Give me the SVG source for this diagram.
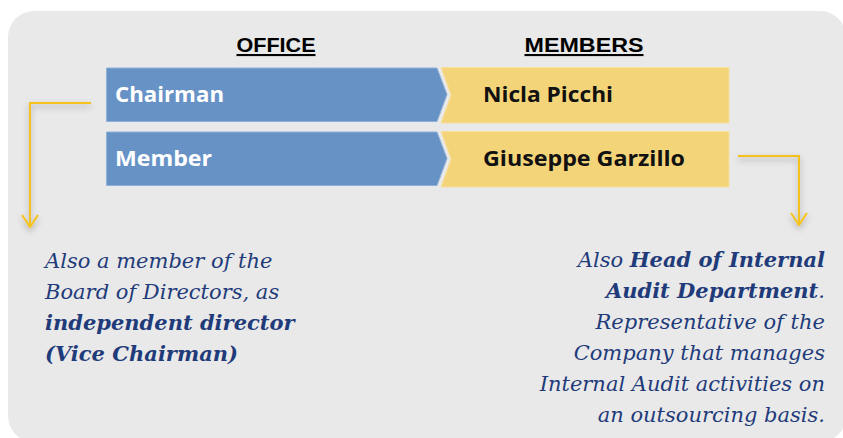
<svg xmlns="http://www.w3.org/2000/svg" width="843" height="438" viewBox="0 0 843 438">
<style>
.hdr{font-family:"Liberation Sans",Arial,sans-serif;font-weight:bold;font-size:21px;fill:#000;text-decoration:underline}
.off{font-family:"Open Sans","Liberation Sans",sans-serif;font-weight:bold;font-size:21px;fill:#fff}
.mem{font-family:"Open Sans","Liberation Sans",sans-serif;font-weight:bold;font-size:21px;fill:#111}
.blue{fill:#6792C6;stroke:#8FB0D8;stroke-width:1}
.yel{fill:#F4D479;stroke:#F7E0A0;stroke-width:1}
.note{font-family:"DejaVu Serif",serif;font-style:italic;font-size:21px;fill:#1F3B7A}
.b{font-weight:bold}
.conn{fill:none;stroke:#F5C21B;stroke-width:2;filter:url(#sh)}
</style>
<defs>
<filter id="sh" x="-50%" y="-50%" width="200%" height="200%">
<feDropShadow dx="0" dy="3" stdDeviation="3" flood-color="#000" flood-opacity="0.3"/>
</filter>
<marker id="ah" markerWidth="16" markerHeight="20" refX="13" refY="10" orient="auto" markerUnits="userSpaceOnUse" viewBox="0 0 16 20">
<path d="M1,2 L13,10 L1,18" fill="none" stroke="#F5C21B" stroke-width="2"/>
</marker>
</defs>
<rect x="0" y="0" width="843" height="438" fill="#fff"/>
<rect x="8" y="11" width="838" height="431" rx="26" fill="#E9E9E9"/>
<g id="headers">
<text class="hdr" x="276" y="52" text-anchor="middle" textLength="79" lengthAdjust="spacingAndGlyphs">OFFICE</text>
<text class="hdr" x="584" y="52" text-anchor="middle" textLength="119" lengthAdjust="spacingAndGlyphs">MEMBERS</text>
</g>
<g id="office-chairman">
<path class="blue" d="M106.5,68 H437 L447,94.5 L437,121.5 H106.5 Z"/>
<text class="off" x="115" y="102" textLength="109" lengthAdjust="spacingAndGlyphs">Chairman</text>
</g>
<g id="member-chairman">
<path class="yel" d="M441,67.5 H729 V123 H441 L451,95 Z"/>
<text class="mem" x="483" y="102" textLength="130" lengthAdjust="spacingAndGlyphs">Nicla Picchi</text>
</g>
<g id="office-member">
<path class="blue" d="M106.5,132 H437 L447,158.5 L437,185.5 H106.5 Z"/>
<text class="off" x="115" y="166" textLength="97" lengthAdjust="spacingAndGlyphs">Member</text>
</g>
<g id="member-member">
<path class="yel" d="M441,131.5 H729 V187 H441 L451,159 Z"/>
<text class="mem" x="483" y="166" textLength="202" lengthAdjust="spacingAndGlyphs">Giuseppe Garzillo</text>
</g>
<g id="connectors">
<path class="conn" d="M91,103 H30 V227" marker-end="url(#ah)"/>
<path class="conn" d="M738,156 H799 V225" marker-end="url(#ah)"/>
</g>
<g id="note-left">
<text class="note" x="45" y="268">Also a member of the</text>
<text class="note" x="45" y="299">Board of Directors, as</text>
<text class="note b" x="45" y="330">independent director</text>
<text class="note b" x="45" y="361">(Vice Chairman)</text>
</g>
<g id="note-right">
<text class="note" x="825" y="267" text-anchor="end">Also <tspan class="b">Head of Internal</tspan></text>
<text class="note" x="825" y="298" text-anchor="end"><tspan class="b">Audit Department</tspan>.</text>
<text class="note" x="825" y="329" text-anchor="end">Representative of the</text>
<text class="note" x="825" y="360" text-anchor="end">Company that manages</text>
<text class="note" x="825" y="391" text-anchor="end">Internal Audit activities on</text>
<text class="note" x="825" y="422" text-anchor="end">an outsourcing basis.</text>
</g>
</svg>
